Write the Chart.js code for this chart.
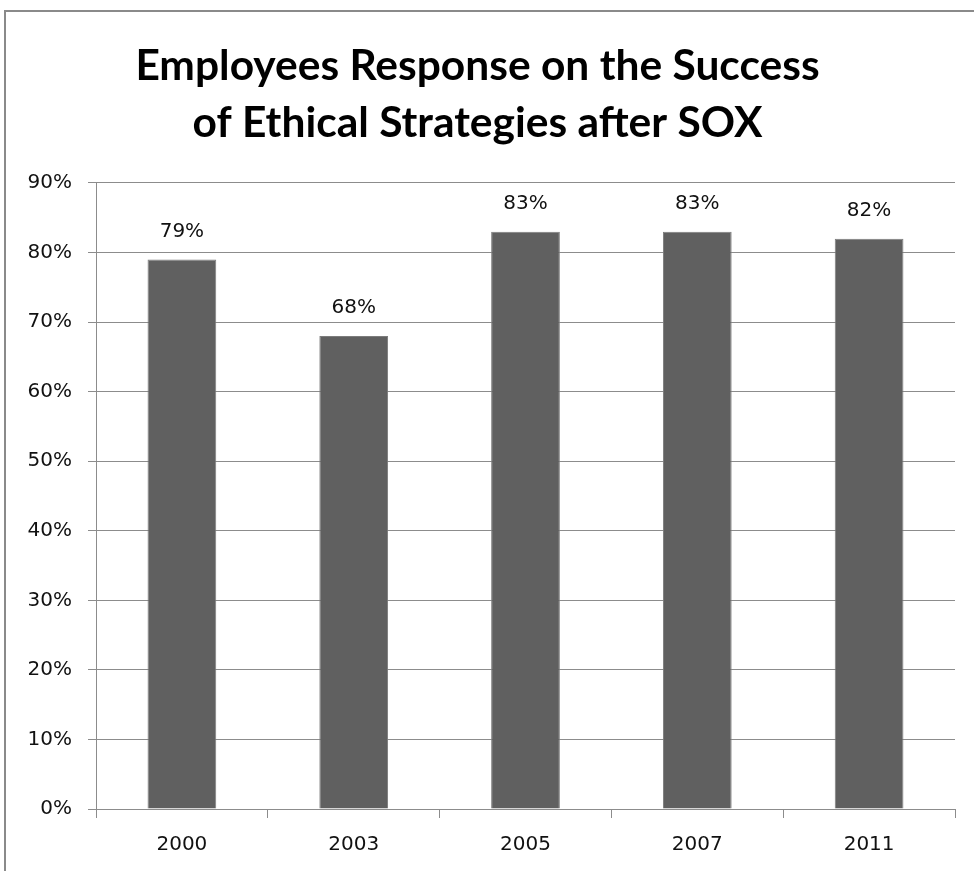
<!DOCTYPE html>
<html>
<head>
<meta charset="utf-8">
<script src="https://cdn.jsdelivr.net/npm/chart.js@4.4.1/dist/chart.umd.min.js"></script>
<style>
  html, body { margin: 0; padding: 0; background: #ffffff; }
  #wrap { position: relative; width: 974px; height: 871px; overflow: hidden; }
  #frame { position: absolute; left: 4px; top: 10px; width: 1200px; height: 1200px;
           border-left: 2px solid #8a8a8a; border-top: 2px solid #8a8a8a; }
  canvas { position: absolute; left: 0; top: 0; }
</style>
</head>
<body>
<div id="wrap">
  <div id="frame"></div>
  <canvas id="c" width="974" height="871"></canvas>
</div>
<script>
const categories = ['2000', '2003', '2005', '2007', '2011'];
const responseValues = [79, 68, 83, 83, 82];
const yTickMax = 90;
const yTickStep = 10;
const titleLines = ['Employees Response on the Success', 'of Ethical Strategies after SOX'];

const tickFont = { family: 'DejaVu Sans', size: 20 };

const dataLabels = {
  id: 'dataLabels',
  afterDatasetsDraw(chart) {
    const ctx = chart.ctx;
    const meta = chart.getDatasetMeta(0);
    ctx.save();
    ctx.font = '20px "DejaVu Sans"';
    ctx.fillStyle = '#111111';
    ctx.textAlign = 'center';
    ctx.textBaseline = 'middle';
    meta.data.forEach((bar, i) => {
      ctx.fillText(responseValues[i] + '%', bar.x, bar.y - 28);
    });
    ctx.restore();
  }
};

new Chart(document.getElementById('c'), {
  type: 'bar',
  data: {
    labels: categories,
    datasets: [{
      data: responseValues,
      backgroundColor: '#606060',
      borderColor: '#7c7c7c',
      borderWidth: 1,
      categoryPercentage: 0.4,
      barPercentage: 1.0
    }]
  },
  options: {
    responsive: false,
    animation: false,
    devicePixelRatio: 1,
    layout: { padding: { left: 0, right: 19, top: 0, bottom: 0 } },
    plugins: {
      legend: { display: false },
      tooltip: { enabled: false },
      title: {
        display: true,
        text: titleLines,
        color: '#000000',
        font: { family: 'Lato', weight: 'bold', size: 42.5, lineHeight: 1.341 },
        padding: { top: 38, bottom: 31 }
      }
    },
    scales: {
      x: {
        offset: true,
        grid: { display: true, drawOnChartArea: false, drawTicks: true, tickLength: 9, color: '#8c8c8c', offset: true },
        border: { display: true, color: '#8c8c8c', width: 1 },
        ticks: { color: '#111111', font: tickFont, padding: 15, maxRotation: 0 },
        afterFit(scale) { scale.height = 62; }
      },
      y: {
        min: 0,
        max: yTickMax,
        grid: { color: '#8c8c8c', lineWidth: 1, drawTicks: true, tickLength: 8 },
        border: { display: true, color: '#8c8c8c', width: 1 },
        ticks: {
          stepSize: yTickStep,
          color: '#111111',
          font: tickFont,
          padding: 16,
          callback: v => v + '%'
        },
        afterFit(scale) { scale.width = 96; }
      }
    }
  },
  plugins: [dataLabels]
});
</script>
</body>
</html>
